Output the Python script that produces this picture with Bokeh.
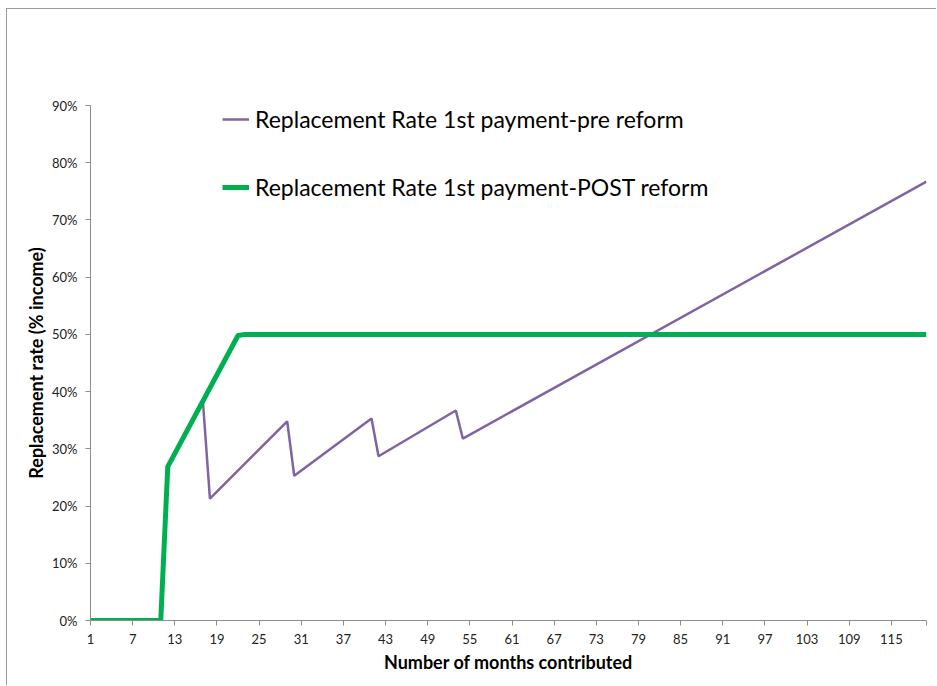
from bokeh.plotting import figure
from bokeh.models import (Range1d, FixedTicker, PrintfTickFormatter, Legend, LegendItem)
from bokeh.embed import file_html
from bokeh.resources import INLINE

# Data (breakpoints of the piecewise-linear series)
pre_months = [1, 11, 12, 17, 18, 29, 30, 41, 42, 53, 54, 120]
pre_rate = [0, 0, 26.9, 38.3, 21.3, 34.8, 25.3, 35.3, 28.7, 36.7, 31.8, 76.7]

post_months = [1, 11, 12, 22, 23, 120]
post_rate = [0, 0, 26.9, 49.8, 50, 50]

x_ticks = [1, 7, 13, 19, 25, 31, 37, 43, 49, 55, 61, 67, 73, 79, 85, 91, 97, 103, 109, 115, 120]
y_ticks = [0, 10, 20, 30, 40, 50, 60, 70, 80, 90]

FONT = "Lato"

p = figure(width=930, height=677, output_backend="svg", toolbar_location=None,
           x_range=Range1d(1, 120), y_range=Range1d(0, 90),
           min_border_left=83, min_border_right=11, min_border_top=96, min_border_bottom=66)
p.margin = (8, 0, 0, 6)
p.styles = {"border-left": "1px solid #9a9a9a", "border-top": "1px solid #9a9a9a"}
p.outline_line_color = None
p.grid.grid_line_color = None
p.background_fill_color = "white"
p.border_fill_color = "white"

r_pre = p.line(pre_months, pre_rate, line_color="#8064A2", line_width=2.5)
r_post = p.line(post_months, post_rate, line_color="#00B050", line_width=5, line_join="round")

# X axis
xa = p.xaxis[0]
xa.ticker = FixedTicker(ticks=x_ticks)
xa.major_label_overrides = {120: ""}
xa.axis_label = "Number of months contributed"
xa.axis_label_text_font = FONT
xa.axis_label_text_font_style = "bold"
xa.axis_label_text_font_size = "18px"
xa.axis_label_text_color = "#000000"
xa.axis_label_standoff = 4
xa.major_label_text_font = FONT
xa.major_label_text_font_size = "13px"
xa.major_label_text_color = "#222222"
xa.major_label_standoff = 8
xa.axis_line_color = "#8c8c8c"
xa.major_tick_line_color = "#8c8c8c"
xa.major_tick_in = 0
xa.major_tick_out = 5
xa.minor_tick_line_color = None

# Y axis
ya = p.yaxis[0]
ya.ticker = FixedTicker(ticks=y_ticks)
ya.formatter = PrintfTickFormatter(format="%d%%")
ya.axis_label = "Replacement rate (% income)"
ya.axis_label_text_font = FONT
ya.axis_label_text_font_style = "bold"
ya.axis_label_text_font_size = "18px"
ya.axis_label_text_color = "#000000"
ya.axis_label_standoff = 2
ya.major_label_text_font = FONT
ya.major_label_text_font_size = "13px"
ya.major_label_text_color = "#222222"
ya.major_label_standoff = 8
ya.axis_line_color = "#8c8c8c"
ya.major_tick_line_color = "#8c8c8c"
ya.major_tick_in = 0
ya.major_tick_out = 5
ya.minor_tick_line_color = None

legend = Legend(items=[
    LegendItem(label="Replacement Rate 1st payment-pre reform", renderers=[r_pre]),
    LegendItem(label="Replacement Rate 1st payment-POST reform", renderers=[r_post]),
], location=(132, 419), orientation="vertical")
legend.label_text_font = FONT
legend.label_text_font_size = "23px"
legend.label_text_color = "#000000"
legend.glyph_width = 27
legend.glyph_height = 20
legend.label_standoff = 6
legend.spacing = 40
legend.padding = 0
legend.margin = 0
legend.border_line_color = None
legend.background_fill_alpha = 0
p.add_layout(legend, "center")

open("out.html", "w").write(file_html(p, INLINE))
